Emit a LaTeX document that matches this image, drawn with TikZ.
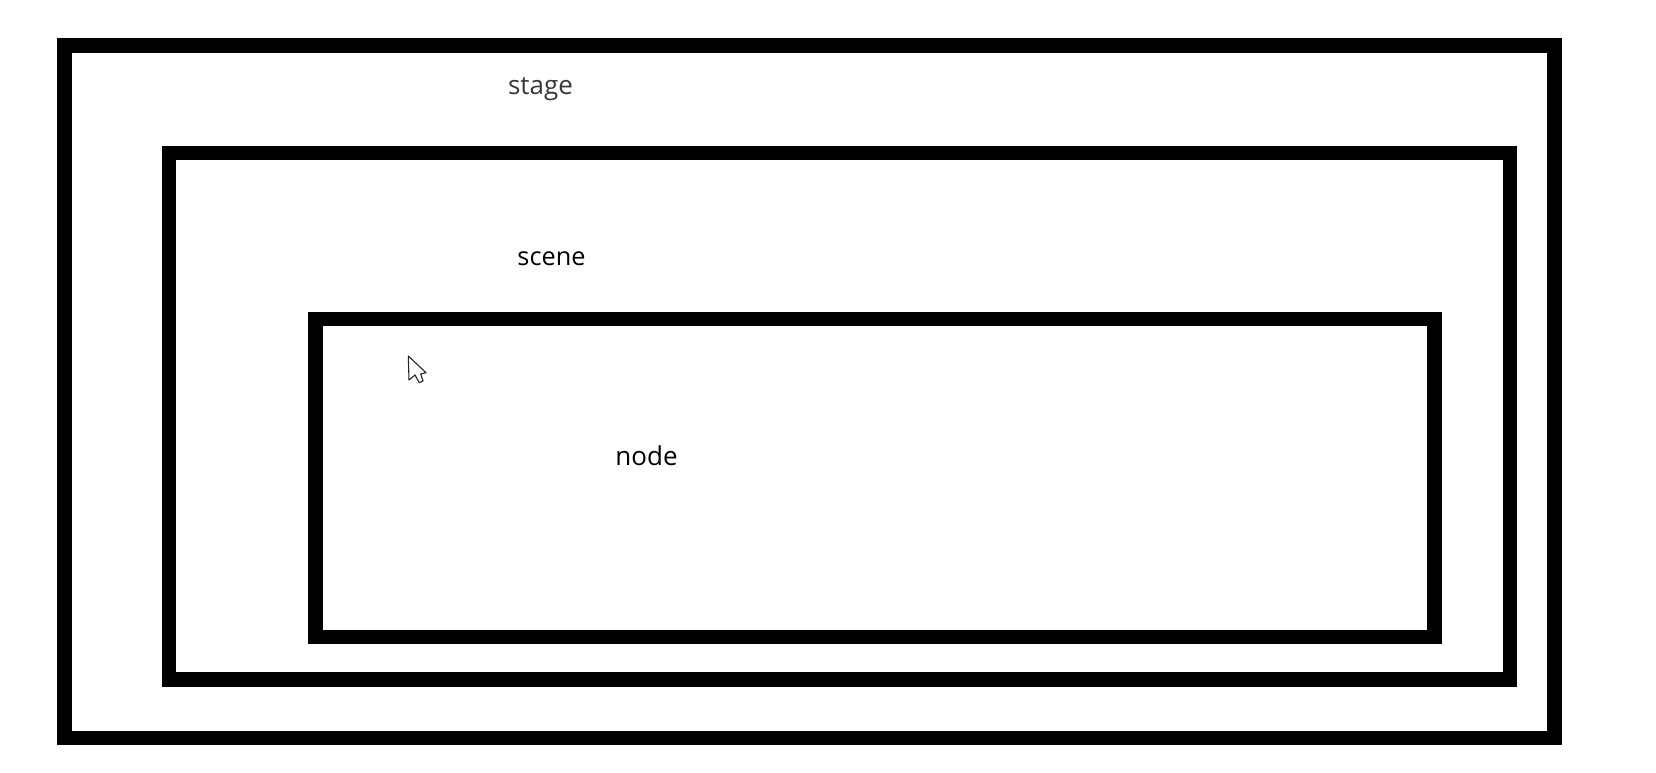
\documentclass[tikz,border=0pt]{standalone}
\usepackage{fontspec}
\setmainfont{Open Sans}
\tikzset{
  framebox/.style={draw=black,line width=14.7pt,fill=none,inner sep=0pt,outer sep=0pt},
  lbl/.style={inner sep=0pt,outer sep=0pt,anchor=base,font=\fontsize{26pt}{30pt}\selectfont},
}
\begin{document}
\begin{tikzpicture}[x=1pt,y=-1pt]
\useasboundingbox (0,0) rectangle (1656,773);
\fill[white] (0,0) rectangle (1656,773);
\node[framebox,minimum width=1490pt,minimum height=692.8pt] (stagebox) at (809.2,391.7) {};
\node[framebox,minimum width=1340.9pt,minimum height=526.6pt] (scenebox) at (839.5,416.3) {};
\node[framebox,minimum width=1118.4pt,minimum height=317.9pt] (nodebox) at (875,478) {};
\node[lbl,text=black!78] (stagelabel) at (540.5,95) {stage};
\node[lbl,font=\fontsize{25.3pt}{30pt}\selectfont] (scenelabel) at (551.5,265) {scene};
\node[lbl] (nodelabel) at (646.5,465) {node};
\draw[line width=1.1pt,line join=round,fill=white,draw=black!85] (408.3,356) -- (409,380) -- (415,375) -- (419.3,382.7) -- (423,381) -- (420.7,374) -- (426,372.7) -- cycle;
\end{tikzpicture}
\end{document}
